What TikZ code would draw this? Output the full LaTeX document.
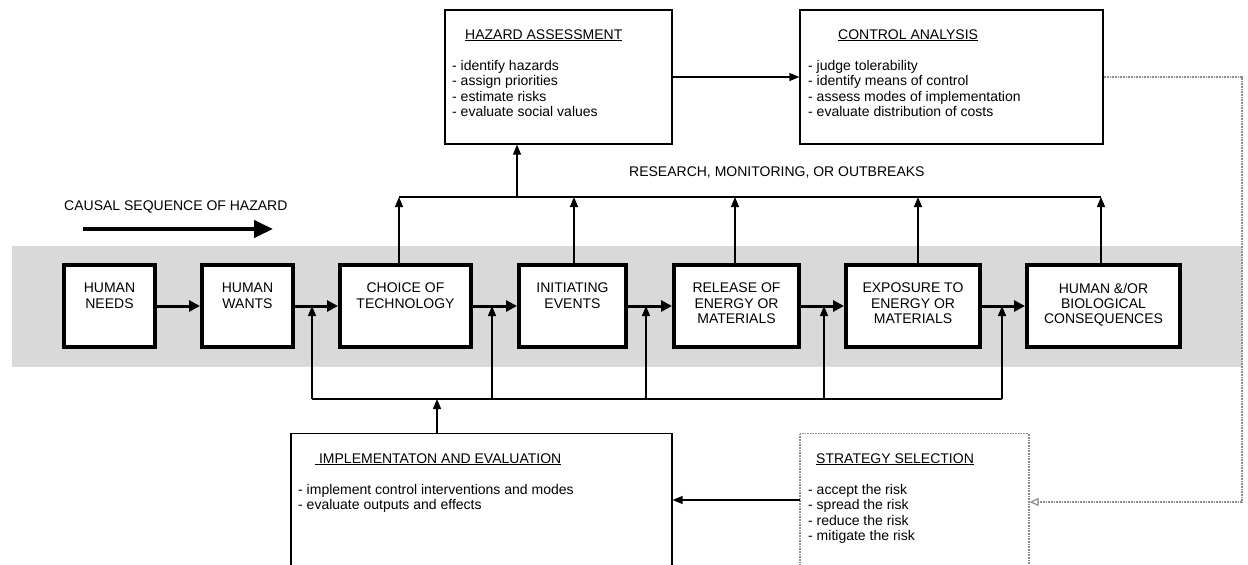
\documentclass[tikz,border=0pt]{standalone}
\usepackage{fontspec}
\setmainfont{Liberation Sans}
\usetikzlibrary{arrows.meta}
\begin{document}
\begin{tikzpicture}[x=1pt,y=-1pt,
  every node/.style={font=\fontsize{14}{15.3}\selectfont, inner sep=0pt},
  flowbox/.style={draw, line width=4pt, fill=white, minimum width=#1, minimum height=82pt},
  panel/.style={draw, line width=1.3pt, fill=white},
  dotpanel/.style={draw=black!45, line width=1.2pt, dash pattern=on 1pt off 0.6pt, fill=white},
  boxtext/.style={anchor=north, align=center},
  flow/.style={line width=3pt, -{Triangle[length=11pt,width=11pt]}},
  thinarrow/.style={line width=1.3pt, -{Triangle[length=10pt,width=8pt]}},
  thinline/.style={line width=1.3pt},
  grayconn/.style={draw=black!45, line width=1.2pt, dash pattern=on 1pt off 0.6pt, -{Triangle[open,length=9pt,width=8pt]}},
  listtext/.style={anchor=base west, align=left},
]
\useasboundingbox (0,0) rectangle (1248,565);
\clip (0,0) rectangle (1248,565);

% gray band
\fill[black!15] (12,246) rectangle (1242,367);

% causal sequence
\node[anchor=base west] (causal) at (64,210) {CAUSAL SEQUENCE OF HAZARD};
\coordinate (c1) at (83,229);
\coordinate (c2) at (273,229);
\draw[line width=4pt, -{Triangle[length=19pt,width=17pt]}] (c1) -- (c2);

% flow boxes
\node[flowbox=91pt] (b1) at (109.5,306) {};
\node[flowbox=91pt] (b2) at (247.5,306) {};
\node[flowbox=131pt] (b3) at (405.5,306) {};
\node[flowbox=107pt] (b4) at (572.5,306) {};
\node[flowbox=125pt] (b5) at (736.5,306) {};
\node[flowbox=134pt] (b6) at (913,306) {};
\node[flowbox=153pt] (b7) at (1103.5,306) {};

\node[boxtext] (t1txt) at (109.5,283) {HUMAN\\NEEDS};
\node[boxtext] (t2txt) at (247.5,283) {HUMAN\\WANTS};
\node[boxtext] (t3txt) at (405.5,283) {CHOICE OF\\TECHNOLOGY};
\node[boxtext] (t4txt) at (572.5,283) {INITIATING\\EVENTS};
\node[boxtext] (t5txt) at (736.5,283) {RELEASE OF\\ENERGY OR\\MATERIALS};
\node[boxtext] (t6txt) at (913,283) {EXPOSURE TO\\ENERGY OR\\MATERIALS};
\node[boxtext] (t7txt) at (1103.5,283) {HUMAN \&/OR\\BIOLOGICAL\\CONSEQUENCES};

\draw[flow] (b1) -- (b2);
\draw[flow] (b2) -- (b3);
\draw[flow] (b3) -- (b4);
\draw[flow] (b4) -- (b5);
\draw[flow] (b5) -- (b6);
\draw[flow] (b6) -- (b7);

% feedback line (bottom)
\coordinate (f1) at (312,399);
\coordinate (f2) at (492,399);
\coordinate (f3) at (646,399);
\coordinate (f4) at (824,399);
\coordinate (f5) at (1002,399);
\draw[thinline] (f1) -- (f5);
\foreach \f in {f1,f2,f3,f4,f5} {
  \draw[thinarrow] (\f) -- (\f |- b1.east);
}

% research line (top)
\coordinate (r1) at (399,197);
\coordinate (r2) at (574,197);
\coordinate (r3) at (735,197);
\coordinate (r4) at (918,197);
\coordinate (r5) at (1101,197);
\coordinate (r0) at (517,197);
\draw[thinline] (r1) -- (r5);
\draw[thinarrow] (r1 |- b3.north) -- (r1);
\draw[thinarrow] (r2 |- b4.north) -- (r2);
\draw[thinarrow] (r3 |- b5.north) -- (r3);
\draw[thinarrow] (r4 |- b6.north) -- (r4);
\draw[thinarrow] (r5 |- b7.north) -- (r5);
\node[anchor=base west] (research) at (629,176) {RESEARCH, MONITORING, OR OUTBREAKS};

% hazard assessment
\node[panel, minimum width=227pt, minimum height=134pt] (haz) at (558.5,77) {};
\node[anchor=base west] (hazt) at (465,39) {\underline{HAZARD ASSESSMENT}};
\node[anchor=base west] (hazl1) at (452,70) {- identify hazards};
\node[anchor=base west] (hazl2) at (452,85.5) {- assign priorities};
\node[anchor=base west] (hazl3) at (452,101) {- estimate risks};
\node[anchor=base west] (hazl4) at (452,116.5) {- evaluate social values};
\draw[thinarrow] (r0) -- (r0 |- haz.south);

% control analysis
\node[panel, minimum width=303pt, minimum height=134pt] (ctl) at (951.5,77) {};
\node[anchor=base west] (ctlt) at (838,39) {\underline{CONTROL ANALYSIS}};
\node[anchor=base west] (ctll1) at (808,70) {- judge tolerability};
\node[anchor=base west] (ctll2) at (808,85.5) {- identify means of control};
\node[anchor=base west] (ctll3) at (808,101) {- assess modes of implementation};
\node[anchor=base west] (ctll4) at (808,116.5) {- evaluate distribution of costs};
\draw[thinarrow] (haz.east) -- (ctl.west);

% implementation and evaluation
\node[panel, minimum width=381pt, minimum height=180pt, anchor=north] (impl) at (481.5,433) {};
\node[anchor=base west] (implt) at (315,463) {\underline{\ IMPLEMENTATON AND EVALUATION}};
\node[anchor=base west] (impll1) at (298,494) {- implement control interventions and modes};
\node[anchor=base west] (impll2) at (298,509.5) {- evaluate outputs and effects};
\coordinate (i0) at (437,399);
\draw[thinarrow] (i0 |- impl.north) -- (i0);

% strategy selection
\node[dotpanel, minimum width=229pt, minimum height=180pt, anchor=north] (strat) at (914.5,433) {};
\node[anchor=base west] (stratt) at (816,463) {\underline{STRATEGY SELECTION}};
\node[anchor=base west] (stratl1) at (808,494) {- accept the risk};
\node[anchor=base west] (stratl2) at (808,509.5) {- spread the risk};
\node[anchor=base west] (stratl3) at (808,525) {- reduce the risk};
\node[anchor=base west] (stratl4) at (808,540.5) {- mitigate the risk};

\coordinate (s1) at (800,500);
\draw[thinarrow] (s1) -- (s1 -| impl.east);

% gray dotted connector
\coordinate (g1) at (1242,77);
\coordinate (g2) at (1242,502);
\draw[grayconn] (ctl.east) -- (g1) -- (g2) -- (g2 -| strat.east);
\end{tikzpicture}
\end{document}
